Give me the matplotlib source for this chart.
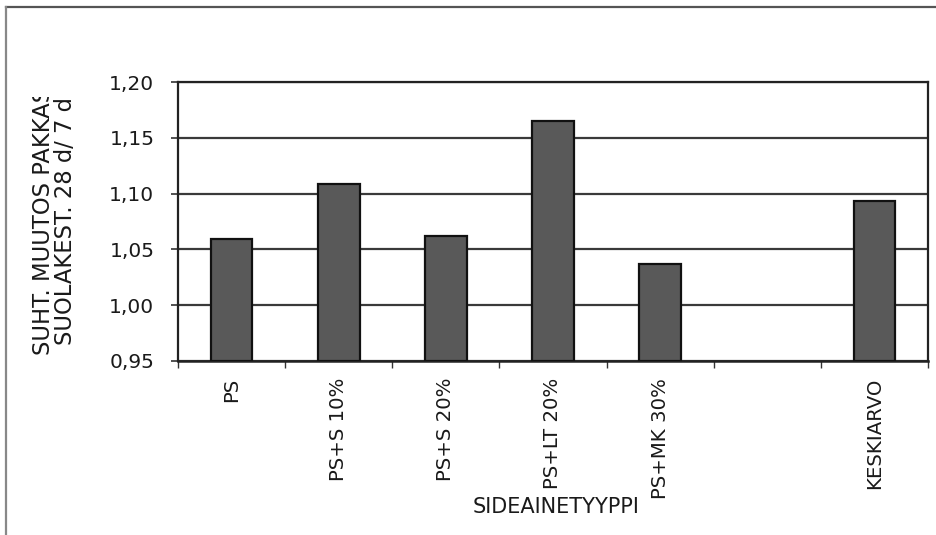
import numpy as np
import matplotlib
matplotlib.use("Agg")
import matplotlib.pyplot as plt
from matplotlib.transforms import Bbox
from matplotlib.lines import Line2D

plt.rcParams['font.family'] = ['DejaVu Sans']

categories = ["PS", "PS+S 10%", "PS+S 20%", "PS+LT 20%", "PS+MK 30%", "", "KESKIARVO"]
values = [1.059, 1.109, 1.062, 1.165, 1.037, np.nan, 1.093]
yticks = [0.95, 1.00, 1.05, 1.10, 1.15, 1.20]
ytick_labels = ["0,95", "1,00", "1,05", "1,10", "1,15", "1,20"]
ylabel_lines = ["SUHT. MUUTOS PAKKAS", "SUOLAKEST. 28 d/ 7 d"]
xlabel = "SIDEAINETYYPPI"

W, H = 936, 535
fig = plt.figure(figsize=(W / 100, H / 100), dpi=100)
fig.patch.set_facecolor("white")

ax = fig.add_axes([178 / W, (H - 361) / H, 750 / W, 279 / H])
ax.set_facecolor("white")

x = np.arange(len(categories))
ymin = yticks[0]
heights = [v - ymin if not np.isnan(v) else 0 for v in values]
mask = [not np.isnan(v) for v in values]
ax.bar(x[mask], np.array(heights)[mask], bottom=ymin, width=0.39,
       color="#595959", edgecolor="#111111", linewidth=1.6, zorder=3)

ax.set_xlim(-0.5, len(categories) - 0.5)
ax.set_ylim(yticks[0], yticks[-1])

ax.set_yticks(yticks)
ax.set_yticklabels(ytick_labels)
ax.yaxis.grid(True, color="#3a3a3a", linewidth=1.6, zorder=1)
ax.set_axisbelow(True)

ax.set_xticks(x)
ax.set_xticklabels(categories, rotation=90, fontsize=14.2, color="#1a1a1a")
ax.set_xticks(np.arange(-0.5, len(categories) + 0.5, 1.0), minor=True)
ax.tick_params(axis="x", which="major", length=0, pad=12)
ax.tick_params(axis="x", which="minor", length=5, width=1, color="#333333", direction="out")
ax.tick_params(axis="y", which="major", length=5, width=1.2, color="#333333",
               direction="out", pad=12, labelsize=14.5, labelcolor="#1a1a1a")

for s in ax.spines.values():
    s.set_color("#222222")
    s.set_linewidth(1.6)
ax.spines["bottom"].set_linewidth(1.8)

fig.text(556 / W, 1 - 507 / H, xlabel, ha="center", va="center",
         fontsize=15, color="#1a1a1a")

cy = 1 - 221 / H
t1 = fig.text(44 / W, cy, ylabel_lines[0], rotation=90, ha="center", va="center",
              fontsize=16.3, color="#1a1a1a")
t1.set_clip_box(Bbox.from_extents(0, 0, W, H - 97))
t1.set_clip_on(True)
fig.text(66 / W, cy, ylabel_lines[1], rotation=90, ha="center", va="center",
         fontsize=16.3, color="#1a1a1a")

fig.add_artist(Line2D([6 / W, 1.0], [1 - 7 / H, 1 - 7 / H], transform=fig.transFigure,
                      color="#555555", linewidth=1.6))
fig.add_artist(Line2D([6 / W, 6 / W], [0, 1 - 7 / H], transform=fig.transFigure,
                      color="#888888", linewidth=1.6))

fig.savefig("out.png", dpi=100)
